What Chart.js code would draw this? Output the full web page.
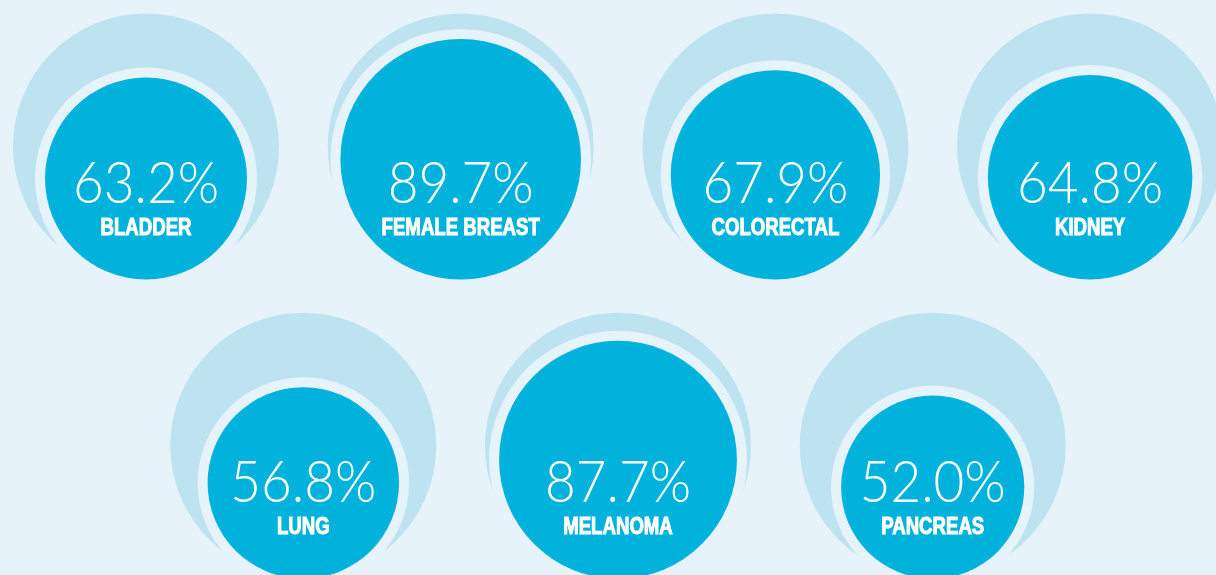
<!DOCTYPE html>
<html>
<head>
<meta charset="utf-8">
<script src="https://cdn.jsdelivr.net/npm/chart.js@4.4.0/dist/chart.umd.min.js"></script>
<style>
  html, body { margin: 0; padding: 0; background: #e6f3fa; }
  #wrap { width: 1216px; height: 575px; }
</style>
</head>
<body>
<div id="wrap"><canvas id="circulos" width="1216" height="575"></canvas></div>
<script>
const cancers = ['BLADDER', 'FEMALE BREAST', 'COLORECTAL', 'KIDNEY', 'LUNG', 'MELANOMA', 'PANCREAS'];
const survival = [63.2, 89.7, 67.9, 64.8, 56.8, 87.7, 52.0];

const W = 1216, H = 575;
const fondo = '#e6f3fa';
const R = 133;      // outer circle = 100%
const K = 127;      // radius of the dark disc at 100%
const gap = 10;

const fuenteNum = '300 57px Lato';
const fuenteTxt = 'bold 23px "Liberation Sans"';

// 4 on top, 3 underneath shifted half a step
function posicion(i) {
    const paso = 314.7;
    if (i < 4) return { x: 146 + i * paso, y: 146.5 };
    return { x: 303.3 + (i - 4) * paso, y: 445.7 };
}

const exterior = [], hueco = [], disco = [];
survival.forEach(function (v, i) {
    const p = posicion(i);
    const r = K * Math.sqrt(v / 100);
    const cy = p.y + (R - r);   // bottoms line up
    exterior.push({ x: p.x, y: p.y, r: R });
    hueco.push({ x: p.x, y: cy, r: r + gap });
    disco.push({ x: p.x, y: cy, r: r });
});

const textos = {
    id: 'textos',
    afterDatasetsDraw(chart) {
        const ctx = chart.ctx;
        const xs = chart.scales.x, ys = chart.scales.y;
        ctx.save();
        ctx.fillStyle = '#ffffff';
        ctx.strokeStyle = '#ffffff';
        ctx.textAlign = 'center';
        ctx.textBaseline = 'alphabetic';

        // squeeze fonts to the condensed look of the original
        ctx.font = fuenteNum;
        const sNum = 146 / ctx.measureText('63.2%').width;
        ctx.font = fuenteTxt;
        const sTxt = 91 / ctx.measureText('BLADDER').width;

        survival.forEach(function (v, i) {
            const px = xs.getPixelForValue(exterior[i].x);
            const py = ys.getPixelForValue(exterior[i].y);

            ctx.save();
            ctx.translate(px, py + 56);
            ctx.scale(sNum, 1);
            ctx.font = fuenteNum;
            ctx.fillText(v.toFixed(1) + '%', 0, 0);
            ctx.restore();

            ctx.save();
            ctx.translate(px, py + 88);
            ctx.scale(sTxt, 1);
            ctx.font = fuenteTxt;
            ctx.lineWidth = 1;
            ctx.fillText(cancers[i], 0, 0);
            ctx.strokeText(cancers[i], 0, 0);
            ctx.restore();
        });
        ctx.restore();
    }
};

let grafico = new Chart(document.getElementById('circulos'), {
    type: 'bubble',
    data: {
        datasets: [
            { data: disco, backgroundColor: '#00b2dc', borderWidth: 0, order: 1 },
            { data: hueco, backgroundColor: fondo, borderWidth: 0, order: 2 },
            { data: exterior, backgroundColor: '#bde3f1', borderWidth: 0, order: 3 }
        ]
    },
    options: {
        responsive: false,
        animation: false,
        events: [],
        layout: { padding: 0, autoPadding: false },
        plugins: {
            legend: { display: false },
            tooltip: { enabled: false }
        },
        scales: {
            x: { type: 'linear', display: false, min: 0, max: W },
            y: { type: 'linear', display: false, min: 0, max: H, reverse: true }
        }
    },
    plugins: [textos]
});
</script>
</body>
</html>
